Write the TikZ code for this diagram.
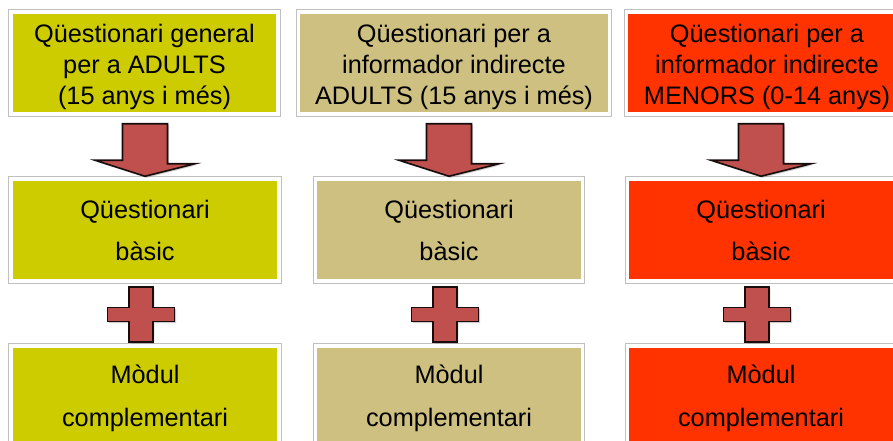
\documentclass[tikz,border=0pt]{standalone}
\usepackage{fontspec}
\setmainfont{Liberation Sans}
\usetikzlibrary{calc,shadows}
\definecolor{colA}{RGB}{204,204,0}
\definecolor{colB}{RGB}{206,192,128}
\definecolor{colC}{RGB}{255,51,0}
\definecolor{arrfill}{RGB}{192,80,77}
\definecolor{arredge}{RGB}{25,12,12}
\definecolor{framegray}{RGB}{192,192,192}
\newcommand\qtop[1]{\rule{0pt}{#1}}
\newcommand\qbot[1]{\rule[-#1]{0pt}{#1}}
\begin{document}
\begin{tikzpicture}[x=1pt,y=-1pt,
  qbox/.style={fill=#1, draw=white, line width=3.5pt,
    preaction={draw=framegray, line width=5.7pt},
    align=center, inner sep=0pt, text=black, minimum height=102pt},
  toptext/.style={font=\fontsize{25.3}{31}\selectfont},
  midtext/.style={font=\fontsize{25.3}{42}\selectfont},
  bottext/.style={font=\fontsize{25.3}{43}\selectfont},
  redshape/.style={fill=arrfill, draw=arredge, line width=1.6pt, line join=miter,
    drop shadow={shadow xshift=1.5pt, shadow yshift=-1.5pt, opacity=0.4}}]
\useasboundingbox (0,0) rectangle (893,441);
\clip (0,0) rectangle (893,441);

% top row
\node[qbox=colA, toptext, minimum width=267pt] (g1) at (144.5,63)
  {\qtop{31pt}Qüestionari general\\per a ADULTS\\(15 anys i més)\qbot{9pt}};
\node[qbox=colB, toptext, minimum width=311pt] (i1) at (454,63)
  {\qtop{31pt}Qüestionari per a\\informador indirecte\\ADULTS (15 anys i més)\qbot{9pt}};
\node[qbox=colC, toptext, minimum width=281pt] (m1) at (767,63)
  {\qtop{31pt}Qüestionari per a\\informador indirecte\\MENORS (0-14 anys)\qbot{9pt}};

% middle row
\node[qbox=colA, midtext, minimum width=268pt] (g2) at (145,230)
  {\qtop{26pt}Qüestionari\\bàsic\qbot{8pt}};
\node[qbox=colB, midtext, minimum width=267pt] (i2) at (449,230)
  {\qtop{26pt}Qüestionari\\bàsic\qbot{8pt}};
\node[qbox=colC, midtext, minimum width=267pt] (m2) at (761,230)
  {\qtop{26pt}Qüestionari\\bàsic\qbot{8pt}};

% bottom row
\node[qbox=colA, bottext, minimum width=268pt] (g3) at (145,397)
  {\qtop{23pt}Mòdul\\complementari\qbot{8pt}};
\node[qbox=colB, bottext, minimum width=267pt] (i3) at (449,397)
  {\qtop{23pt}Mòdul\\complementari\qbot{8pt}};
\node[qbox=colC, bottext, minimum width=267pt] (m3) at (761,397)
  {\qtop{23pt}Mòdul\\complementari\qbot{8pt}};

% down arrows
\foreach \a/\b in {g1/g2, i1/i2, m1/m2}{
  \draw[redshape] ($(\a.south -| \b.north)+(-22.5,8)$) -- ++(45,0) -- ++(0,40)
    -- ++(27.5,0) -- ($(\b.north)+(0,-1)$) -- ++(-50,-16) -- ++(27.5,0) -- cycle;
}

% plus signs
\foreach \a/\b/\p in {g2/g3/pg, i2/i3/pi, m2/m3/pm}{
  \coordinate (\p) at ($(\a.south)!0.5!(\b.north)+(-4,1)$);
  \draw[redshape] ($(\p)+(-11.75,-27.5)$) -- ++(23.5,0) -- ++(0,20.5) -- ++(21.75,0)
    -- ++(0,14) -- ++(-21.75,0) -- ++(0,20.5) -- ++(-23.5,0) -- ++(0,-20.5)
    -- ++(-21.75,0) -- ++(0,-14) -- ++(21.75,0) -- cycle;
}
\end{tikzpicture}
\end{document}
